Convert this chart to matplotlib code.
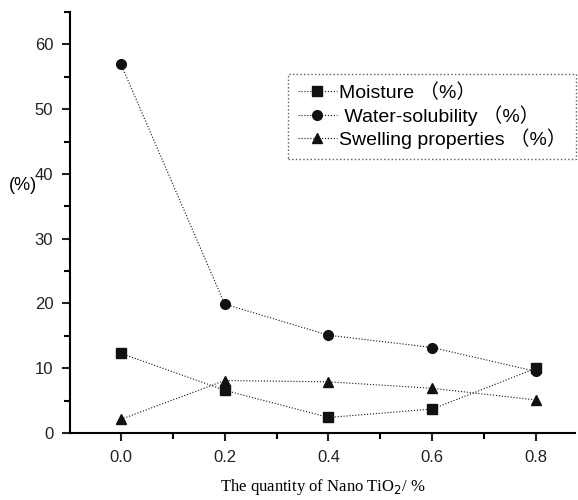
import matplotlib.pyplot as plt
from matplotlib.ticker import MultipleLocator

plt.rcParams['font.family'] = ['Liberation Sans', 'Noto Sans CJK SC']

# 数据
nano = [0.0, 0.2, 0.4, 0.6, 0.8]
moisture = [12.3, 6.6, 2.4, 3.7, 10.0]
water_sol = [57.0, 19.9, 15.1, 13.2, 9.5]
swelling = [2.1, 8.1, 7.9, 6.9, 5.1]

fig = plt.figure(figsize=(5.78, 5.0), dpi=100)
ax = fig.add_axes([0.121, 0.134, 0.874, 0.842])

style = dict(color='#111111', linestyle=':', linewidth=0.8, markersize=7)
ax.plot(nano, moisture, marker='s', label='Moisture （%）', **style)
ax.plot(nano, water_sol, marker='o', label=' Water-solubility （%）', **style)
ax.plot(nano, swelling, marker='^', label='Swelling properties （%）', **style)

ax.set_xlim(-0.098, 0.875)
ax.set_ylim(0, 65)
ax.xaxis.set_major_locator(MultipleLocator(0.2))
ax.xaxis.set_minor_locator(MultipleLocator(0.1))
ax.yaxis.set_major_locator(MultipleLocator(10))
ax.yaxis.set_minor_locator(MultipleLocator(5))
ax.set_xticks([0.0, 0.2, 0.4, 0.6, 0.8])
ax.set_xticklabels(['0.0', '0.2', '0.4', '0.6', '0.8'])

ax.spines['top'].set_visible(False)
ax.spines['right'].set_visible(False)
ax.spines['left'].set_linewidth(1.5)
ax.spines['bottom'].set_linewidth(1.5)
ax.tick_params(which='major', direction='out', length=6, width=1.5, labelsize=12, colors='#222222', pad=6)
ax.tick_params(which='minor', direction='out', length=4, width=1.5)

ax.set_xlabel('The quantity of Nano TiO$_2$/ %', fontsize=12, family='Liberation Serif', labelpad=9)
fig.text(0.04, 0.63, '(%)', fontsize=13, ha='center', va='center')

leg = ax.legend(loc='upper left', bbox_to_anchor=(0.432, 0.853), fontsize=14,
                frameon=True, fancybox=False, handlelength=2.0, handletextpad=0.1,
                borderpad=0.5, labelspacing=0.15, borderaxespad=0)
leg.get_frame().set_edgecolor('#333333')
leg.get_frame().set_linestyle(':')
leg.get_frame().set_linewidth(1.0)

plt.savefig('out.png', dpi=100)
